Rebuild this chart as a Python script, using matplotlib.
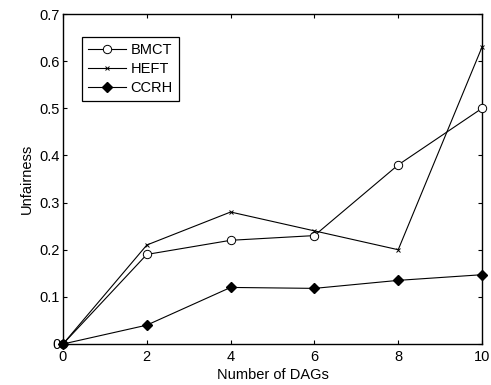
import matplotlib
matplotlib.use("Agg")
import matplotlib.pyplot as plt

plt.rcParams['font.family'] = ['Liberation Sans', 'DejaVu Sans']

dags = [0, 2, 4, 6, 8, 10]
bmct = [0, 0.19, 0.22, 0.23, 0.38, 0.50]
heft = [0, 0.21, 0.28, 0.24, 0.20, 0.63]
ccrh = [0, 0.04, 0.12, 0.118, 0.135, 0.147]

fig = plt.figure(figsize=(4.91, 3.85), dpi=100)
ax = fig.add_axes([0.1283, 0.1065, 0.8534, 0.857])

ax.plot(dags, bmct, 'k-', marker='o', mfc='white', mec='black', ms=6, lw=0.8, mew=0.7,
        label='BMCT', clip_on=False, zorder=3)
ax.plot(dags, heft, 'k-', marker='x', ms=3.5, lw=0.8, mew=0.7, label='HEFT', clip_on=False, zorder=3)
ax.plot(dags, ccrh, 'k-', marker='D', mfc='black', ms=5.5, lw=0.8, label='CCRH', clip_on=False, zorder=3)

ax.set_xlim(0, 10)
ax.set_ylim(0, 0.7)
ax.set_xticks([0, 2, 4, 6, 8, 10])
ax.set_yticks([0, 0.1, 0.2, 0.3, 0.4, 0.5, 0.6, 0.7])
ax.set_yticklabels(['0', '0.1', '0.2', '0.3', '0.4', '0.5', '0.6', '0.7'])
ax.tick_params(direction='in', top=True, right=True, labelsize=10.5, length=3, width=0.8, pad=2)
ax.tick_params(axis='x', pad=4)
for s in ax.spines.values():
    s.set_linewidth(1.0)

ax.set_xlabel('Number of DAGs', fontsize=10.5, labelpad=3)
ax.set_ylabel('Unfairness', fontsize=10.5, labelpad=4)

leg = ax.legend(loc='upper left', bbox_to_anchor=(0.045, 0.93), borderaxespad=0, fontsize=10.5,
                fancybox=False, edgecolor='black', framealpha=1, handlelength=2.6, borderpad=0.4,
                labelspacing=0.35, handletextpad=0.35)
leg.get_frame().set_linewidth(0.9)

fig.savefig('out.png', dpi=100)
